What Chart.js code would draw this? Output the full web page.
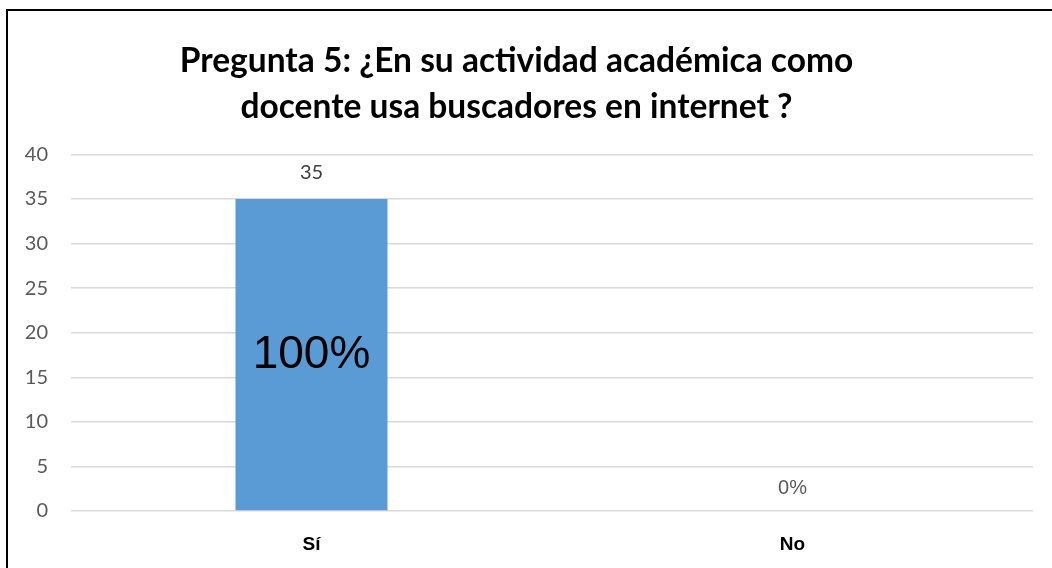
<!DOCTYPE html>
<html>
<head>
<meta charset="utf-8">
<script src="https://cdn.jsdelivr.net/npm/chart.js@4"></script>
<style>
    html, body { margin: 0; padding: 0; background: #fff; }
    #wrap { width: 1052px; height: 568px; }
</style>
</head>
<body>
<div id="wrap"><canvas id="chart" width="1052" height="568"></canvas></div>
<script>
const titleLines = ['Pregunta 5: ¿En su actividad académica como', 'docente usa buscadores en internet ?'];
const categories = ['Sí', 'No'];
const responses = [35, 0];
const percentLabels = ['100%', '0%'];
const yMax = 40;
const yStep = 5;

// value / percentage labels and the black frame on the left and top
const labelPlugin = {
    id: 'labels',
    afterDatasetsDraw(chart) {
        const ctx = chart.ctx;
        const meta = chart.getDatasetMeta(0);
        ctx.save();
        ctx.textAlign = 'center';
        ctx.textBaseline = 'middle';
        meta.data.forEach((bar, i) => {
            const v = responses[i];
            if (v > 0) {
                ctx.fillStyle = '#404040';
                ctx.font = '20px Lato';
                ctx.fillText(String(v), bar.x, bar.y - 26);
                ctx.fillStyle = '#000';
                ctx.font = '46px "Liberation Sans"';
                ctx.fillText(percentLabels[i], bar.x, (bar.y + bar.base) / 2 + 1);
            } else {
                ctx.fillStyle = '#595959';
                ctx.font = '20px "Liberation Sans"';
                ctx.fillText(percentLabels[i], bar.x, bar.y - 23);
            }
        });
        ctx.restore();
    },
    afterDraw(chart) {
        const ctx = chart.ctx;
        ctx.save();
        ctx.fillStyle = '#000';
        ctx.fillRect(6, 9, 2, chart.height);
        ctx.fillRect(6, 9, chart.width, 2);
        ctx.restore();
    }
};

const ctx = document.getElementById('chart').getContext('2d');
new Chart(ctx, {
    type: 'bar',
    data: {
        labels: categories,
        datasets: [{
            data: responses,
            backgroundColor: '#5b9bd5',
            borderWidth: 0,
            categoryPercentage: 1,
            barPercentage: 0.316
        }]
    },
    options: {
        responsive: false,
        animation: false,
        layout: { padding: { top: 5, right: 19, bottom: 0, left: 0 } },
        plugins: {
            legend: { display: false },
            tooltip: { enabled: false },
            title: {
                display: true,
                text: titleLines,
                color: '#000',
                font: { family: 'Lato', size: 33.5, weight: 'bold', lineHeight: 1.35 },
                padding: { top: 34, bottom: 25 }
            }
        },
        scales: {
            x: {
                grid: { display: false },
                border: { display: false },
                ticks: {
                    color: '#000',
                    font: { family: '"Liberation Sans"', size: 19, weight: 'bold' },
                    padding: 14
                },
                afterFit(scale) { scale.height = 57; }
            },
            y: {
                min: 0,
                max: yMax,
                ticks: {
                    stepSize: yStep,
                    color: '#595959',
                    font: { family: 'Lato', size: 20 },
                    padding: 23
                },
                grid: { color: '#d9d9d9', lineWidth: 1.5, drawTicks: false },
                border: { display: false },
                afterFit(scale) { scale.width = 71; }
            }
        }
    },
    plugins: [labelPlugin]
});
</script>
</body>
</html>
